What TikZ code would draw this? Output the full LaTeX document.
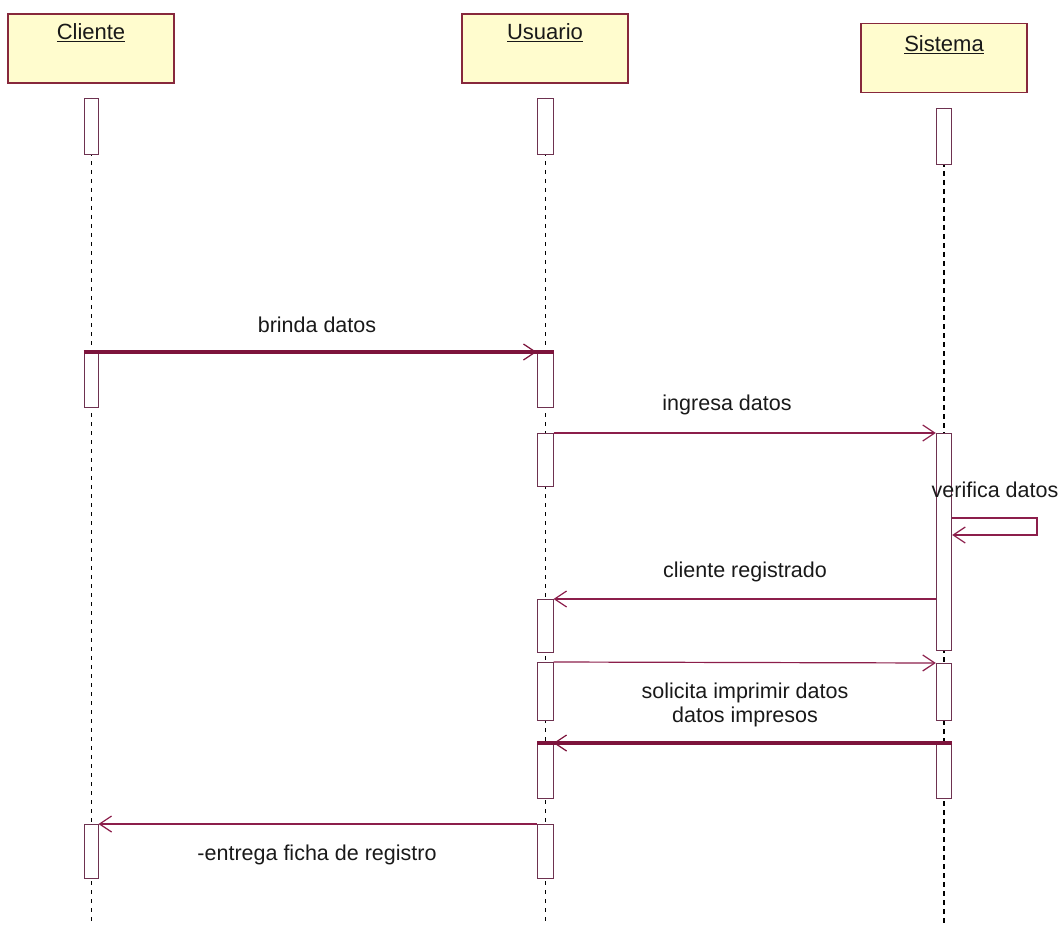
\documentclass[tikz,border=0pt]{standalone}
\usepackage{fontspec}
\setmainfont{Liberation Sans}
\usetikzlibrary{arrows.meta,backgrounds}
\definecolor{hdrfill}{RGB}{255,252,206}
\definecolor{hdrline}{RGB}{135,40,60}
\definecolor{msgc}{RGB}{140,30,75}
\definecolor{thickc}{RGB}{125,20,60}
\definecolor{actc}{RGB}{110,50,80}
\definecolor{txtc}{RGB}{25,25,25}
\tikzset{
  hdr/.style={draw=hdrline, line width=1.3pt, fill=hdrfill, minimum width=166pt, minimum height=69pt, inner sep=0pt},
  hdrtxt/.style={text=txtc, font=\fontsize{22}{24}\selectfont, inner sep=0pt},
  act/.style={draw=actc, line width=1pt, fill=white, minimum width=14pt, inner sep=0pt, anchor=north},
  lifeline/.style={draw=black, line width=1pt, dash pattern=on 4pt off 5pt},
  lifelinebold/.style={draw=black, line width=1.8pt, dash pattern=on 5pt off 4pt},
  lbl/.style={text=txtc, font=\fontsize{21.5}{24}\selectfont, inner sep=0pt},
  msg/.style={draw=msgc, line width=1.2pt, -{Straight Barb[length=12pt,width=16pt]}},
  thickmsg/.style={draw=thickc, line width=3.2pt, -{Straight Barb[length=12pt,width=16pt,line width=1.2pt]}},
  thickseg/.style={draw=thickc, line width=3.2pt}
}
\begin{document}
\begin{tikzpicture}[x=1pt,y=-1pt]
\useasboundingbox (0,0) rectangle (1062,925);

% headers
\node[hdr] (hC) at (91,48.5) {};
\node[hdr] (hU) at (545,48.5) {};
\node[hdr] (hS) at (944,58) {};
\node[hdrtxt] (hCt) at (91,33) {\underline{Cliente}};
\node[hdrtxt] (hUt) at (545,33) {\underline{Usuario}};
\node[hdrtxt] (hSt) at (944,45) {\underline{Sistema}};

% activation boxes
\node[act, minimum height=56pt] (cb1) at (91,98) {};
\node[act, minimum height=55pt] (cb2) at (91,352) {};
\node[act, minimum height=54pt] (cb3) at (91,824) {};

\node[act, minimum width=16pt, minimum height=56pt] (ub1) at (545,98) {};
\node[act, minimum width=16pt, minimum height=55pt] (ub2) at (545,352) {};
\node[act, minimum width=16pt, minimum height=53pt] (ub3) at (545,433) {};
\node[act, minimum width=16pt, minimum height=53pt] (ub4) at (545,599) {};
\node[act, minimum width=16pt, minimum height=58pt] (ub5) at (545,662) {};
\node[act, minimum width=16pt, minimum height=55pt] (ub6) at (545,743) {};
\node[act, minimum width=16pt, minimum height=54pt] (ub7) at (545,824) {};

\node[act, minimum width=15pt, minimum height=56pt, line width=1.4pt] (sb1) at (944,108) {};
\node[act, minimum width=15pt, minimum height=217pt, line width=1.4pt] (sb2) at (944,433) {};
\node[act, minimum width=15pt, minimum height=57pt, line width=1.4pt] (sb3) at (944,663) {};
\node[act, minimum width=15pt, minimum height=55pt, line width=1.4pt] (sb4) at (944,743) {};

% lifelines
\coordinate (cEnd) at (91,925);
\coordinate (uEnd) at (545,925);
\coordinate (sEnd) at (944,925);
\begin{scope}[on background layer]
\draw[lifeline] (cb1.north) -- (cEnd);
\draw[lifeline] (ub1.north) -- (uEnd);
\draw[lifelinebold] (sb1.north) -- (sEnd);
\end{scope}

% brinda datos
\draw[thickseg] (cb2.north west) -- (ub2.north east);
\draw[thickmsg] (cb2.north east) -- (ub2.north west);
\node[lbl] (l1) at (317,325) {brinda datos};

% ingresa datos
\draw[msg] (ub3.north east) -- (sb2.north west);
\node[lbl] (l2) at (727,405) {ingresa datos};

% verifica datos (self message)
\node[lbl] (l3) at (995,490) {verifica datos};
\coordinate (loopA) at (1037,518);
\coordinate (loopB) at (1037,535);
\draw[msg] (sb2.east |- loopA) -- (loopA) -- (loopB) -- (sb2.east |- loopB);

% cliente registrado
\draw[msg] (sb2.west |- ub4.north) -- (ub4.north east);
\node[lbl] (l4) at (745,572) {cliente registrado};

% solicita imprimir datos
\draw[msg] (ub5.north east) -- (sb3.north west);
\node[lbl] (l5) at (745,693) {solicita imprimir datos};

% datos impresos
\draw[thickseg] (sb4.north east) -- (ub6.north west);
\draw[thickmsg] (sb4.north west) -- (ub6.north east);
\node[lbl] (l6) at (745,717) {datos impresos};

% entrega ficha de registro
\draw[msg] (ub7.north west) -- (cb3.north east);
\node[lbl] (l7) at (317,855) {-entrega ficha de registro};
\end{tikzpicture}
\end{document}
